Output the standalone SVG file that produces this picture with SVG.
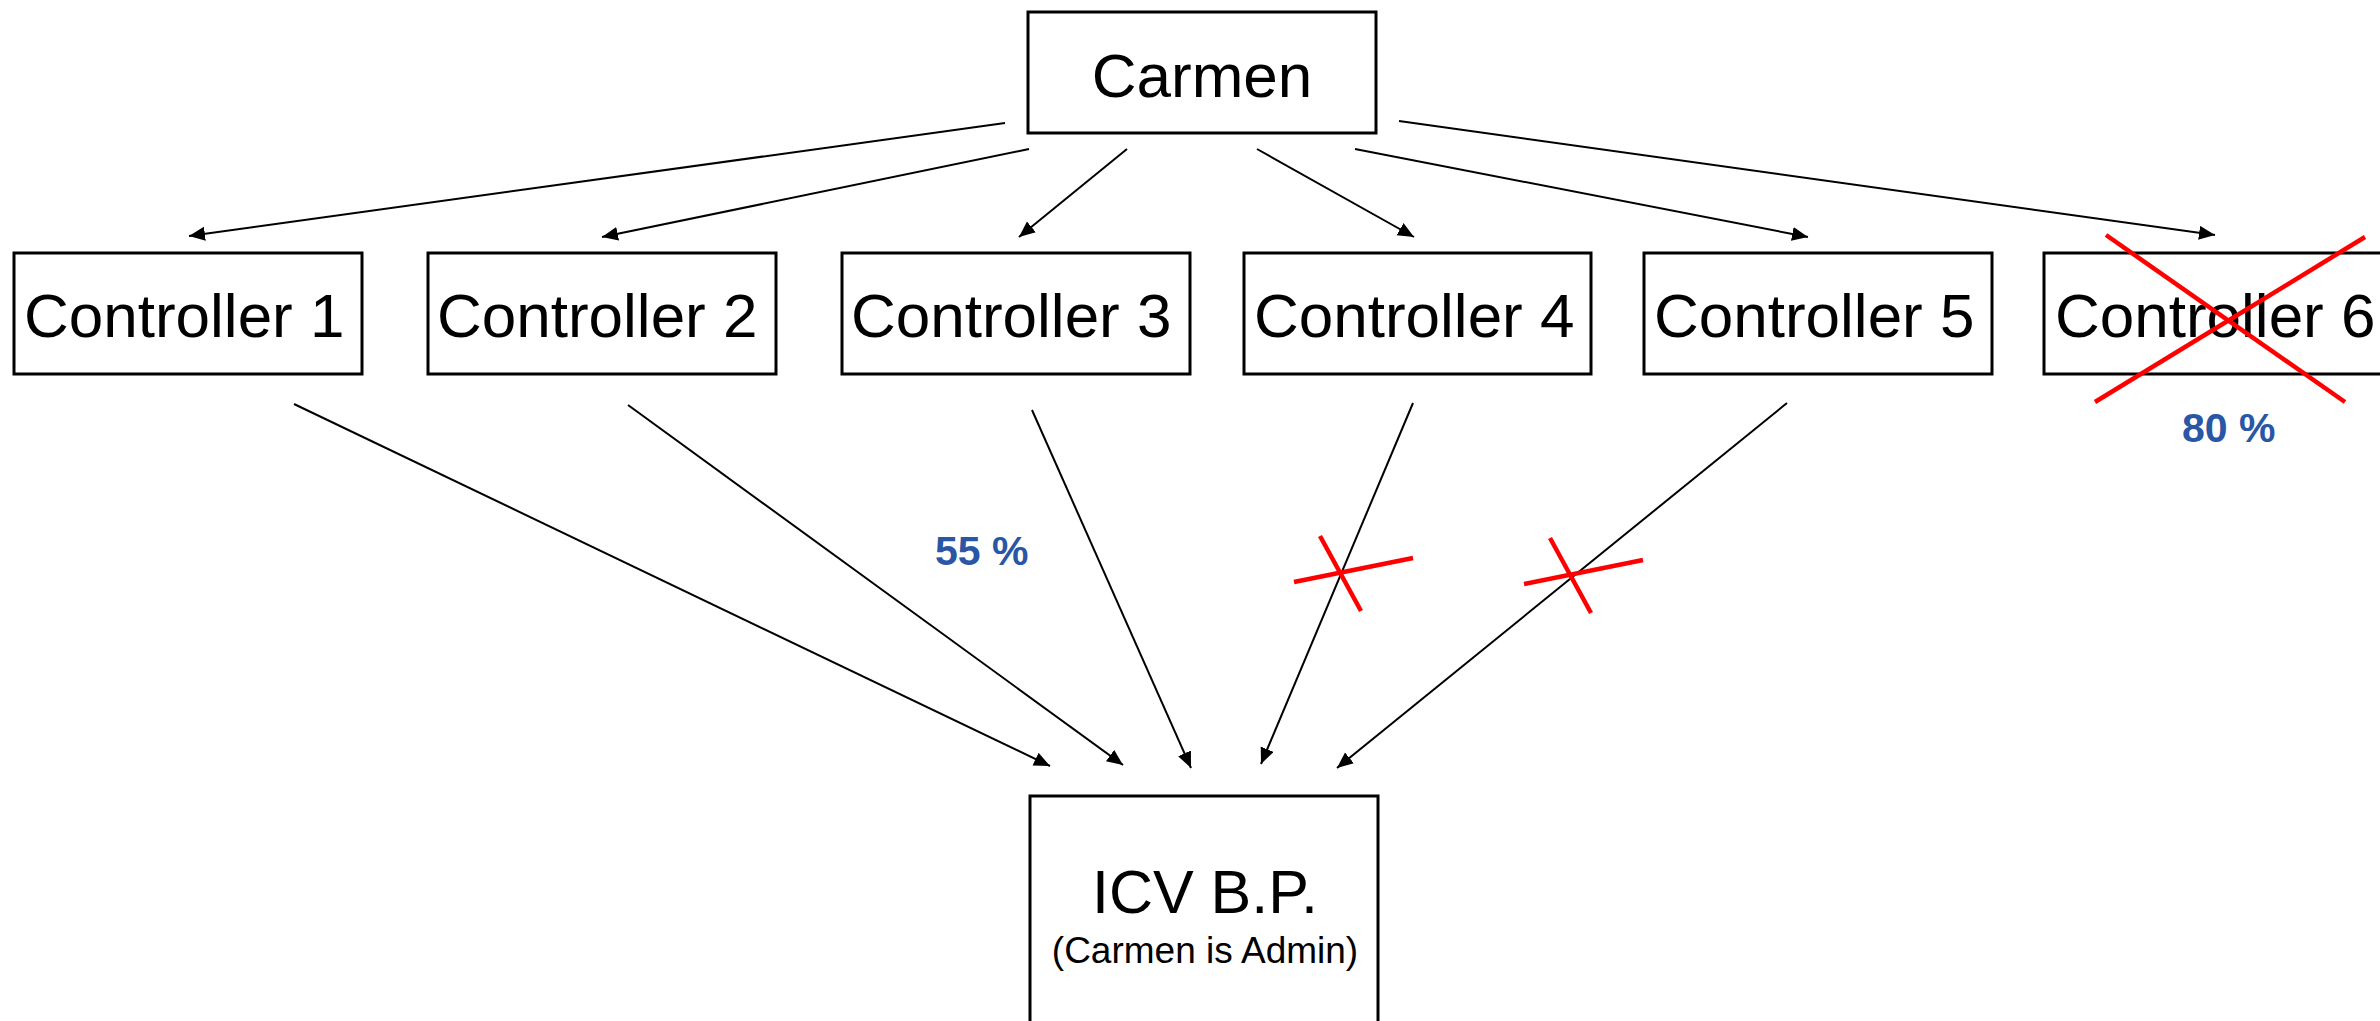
<svg xmlns="http://www.w3.org/2000/svg" width="2380" height="1021" viewBox="0 0 2380 1021">
<style>
.box{fill:#fff;stroke:#000;stroke-width:3}
.lbl{font-family:"Liberation Sans",Arial,sans-serif;fill:#000}
.ctl{font-size:62px}
.conn{stroke:#000;stroke-width:2;fill:none;marker-end:url(#arr)}
.red{stroke:#ff0000;stroke-width:4.5;fill:none}
.pct{font-family:"Liberation Sans",Arial,sans-serif;font-weight:bold;font-size:41px;fill:#2956a5}
</style>
<defs>
<marker id="arr" markerUnits="userSpaceOnUse" markerWidth="18" markerHeight="16" refX="16" refY="7" orient="auto">
<path d="M0,0 L16,7 L0,14 Z" fill="#000"/>
</marker>
</defs>
<rect width="2380" height="1021" fill="#fff"/>
<g id="carmen">
<rect class="box" x="1028" y="12" width="348" height="121"/>
<text class="lbl" x="1202" y="97" font-size="62" text-anchor="middle">Carmen</text>
</g>
<g id="controller1">
<rect class="box" x="14" y="253" width="348" height="121"/>
<text class="lbl ctl" x="24" y="337">Controller 1</text>
</g>
<g id="controller2">
<rect class="box" x="428" y="253" width="348" height="121"/>
<text class="lbl ctl" x="437" y="337">Controller 2</text>
</g>
<g id="controller3">
<rect class="box" x="842" y="253" width="348" height="121"/>
<text class="lbl ctl" x="851" y="337">Controller 3</text>
</g>
<g id="controller4">
<rect class="box" x="1244" y="253" width="347" height="121"/>
<text class="lbl ctl" x="1254" y="337">Controller 4</text>
</g>
<g id="controller5">
<rect class="box" x="1644" y="253" width="348" height="121"/>
<text class="lbl ctl" x="1654" y="337">Controller 5</text>
</g>
<g id="controller6">
<rect class="box" x="2044" y="253" width="348" height="121"/>
<text class="lbl ctl" x="2055" y="337">Controller 6</text>
<line class="red" x1="2106" y1="235" x2="2345" y2="402"/>
<line class="red" x1="2365" y1="237" x2="2095" y2="402"/>
</g>
<g id="icv">
<rect class="box" x="1030" y="796" width="348" height="240"/>
<text class="lbl" x="1205" y="913" font-size="61" text-anchor="middle">ICV B.P.</text>
<text class="lbl" x="1205" y="963" font-size="37" text-anchor="middle">(Carmen is Admin)</text>
</g>
<g id="connectors">
<line class="conn" x1="1005" y1="123" x2="189" y2="236"/>
<line class="conn" x1="1029" y1="149" x2="602" y2="237"/>
<line class="conn" x1="1127" y1="149" x2="1019" y2="237"/>
<line class="conn" x1="1257" y1="149" x2="1414" y2="237"/>
<line class="conn" x1="1355" y1="149" x2="1808" y2="237"/>
<line class="conn" x1="1399" y1="121" x2="2215" y2="235"/>
<line class="conn" x1="294" y1="404" x2="1050" y2="766"/>
<line class="conn" x1="628" y1="405" x2="1123" y2="765"/>
<line class="conn" x1="1032" y1="410" x2="1191" y2="768"/>
<line class="conn" x1="1413" y1="403" x2="1261" y2="764"/>
<line class="conn" x1="1787" y1="403" x2="1337" y2="768"/>
</g>
<g id="marks">
<line class="red" x1="1294" y1="582" x2="1413" y2="558"/>
<line class="red" x1="1320" y1="536" x2="1361" y2="611"/>
<line class="red" x1="1524" y1="584" x2="1643" y2="560"/>
<line class="red" x1="1550" y1="538" x2="1591" y2="613"/>
<text class="pct" x="935" y="565">55 %</text>
<text class="pct" x="2182" y="442">80 %</text>
</g>
</svg>
